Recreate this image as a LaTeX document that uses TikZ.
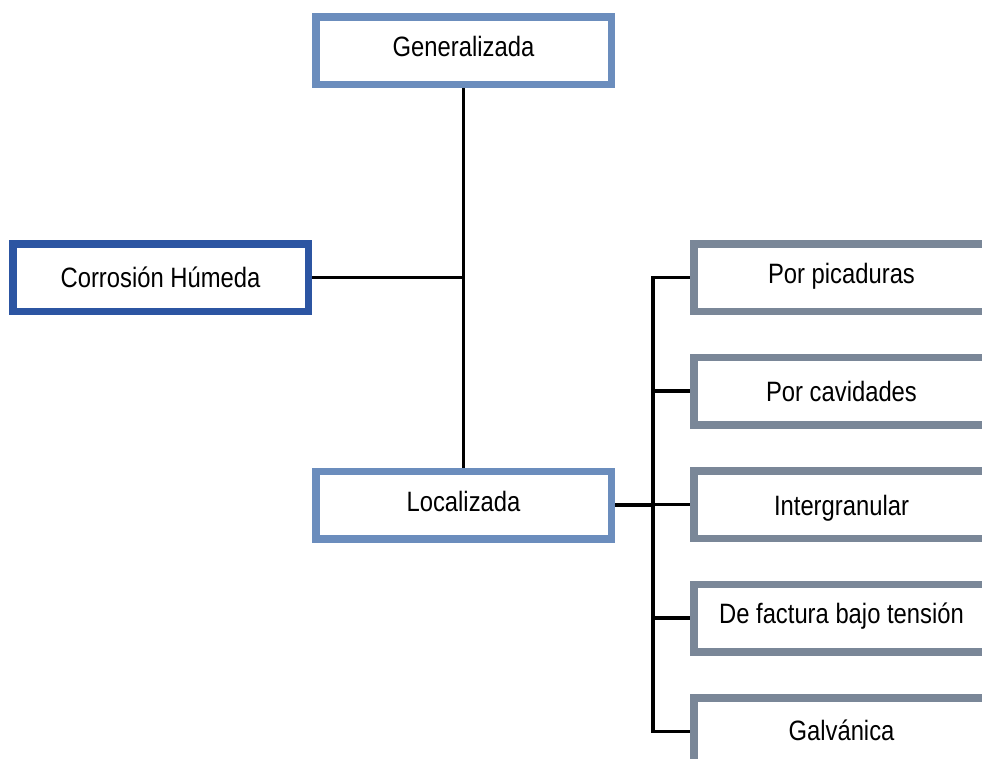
\documentclass[tikz,border=0pt]{standalone}
\usepackage{fontspec}
\setmainfont{Liberation Sans}[FakeStretch=0.85]
\usetikzlibrary{backgrounds}
\definecolor{genblue}{HTML}{6B8DBD}
\definecolor{darkblue}{HTML}{2C55A2}
\definecolor{slategray}{HTML}{7A8798}
\tikzset{
  box/.style={draw, fill=white, line width=7.5pt, minimum width=295.5pt, minimum height=67.5pt,
    inner sep=0pt, text height=16pt, text depth=5pt, align=center,
    font=\fontsize{28}{34}\selectfont},
  genbox/.style={box, draw=genblue},
  rootbox/.style={box, draw=darkblue},
  leafbox/.style={box, draw=slategray},
  tshift/.style={text height=#1},
  conn/.style={draw=black, line width=3.8pt}
}
\begin{document}
\begin{tikzpicture}[x=1pt, y=-1pt]
\useasboundingbox (0,0) rectangle (982,758);
\clip (0,0) rectangle (982,758);
\node[genbox, tshift=17pt] (gen) at (463.5,50.8) {Generalizada};
\node[rootbox, tshift=24.5pt] (cor) at (160.5,277.5) {Corrosión Húmeda};
\node[genbox, tshift=18.4pt] (loc) at (463.5,505) {Localizada};
\node[leafbox, tshift=16.6pt] (r1) at (841.5,277.5) {Por picaduras};
\node[leafbox, tshift=26pt] (r2) at (841.5,391.2) {Por cavidades};
\node[leafbox, tshift=26pt] (r3) at (841.5,504.5) {Intergranular};
\node[leafbox, tshift=15.6pt] (r4) at (841.5,618) {De factura bajo tensión};
\node[leafbox, tshift=22pt] (r5) at (841.5,731.5) {Galvánica};
\coordinate (bus) at (653,0);
\begin{scope}[on background layer]
\draw[conn] (gen.south) -- (loc.north);
\draw[conn] (cor.east) -- (cor.east -| gen.south);
\draw[conn] (loc.east) -- (bus |- loc.east);
\draw[conn] (r1.west) -- (bus |- r1.west) -- (bus |- r5.west) -- (r5.west);
\draw[conn] (bus |- r2.west) -- (r2.west);
\draw[conn] (bus |- r3.west) -- (r3.west);
\draw[conn] (bus |- r4.west) -- (r4.west);
\end{scope}
\end{tikzpicture}
\end{document}
